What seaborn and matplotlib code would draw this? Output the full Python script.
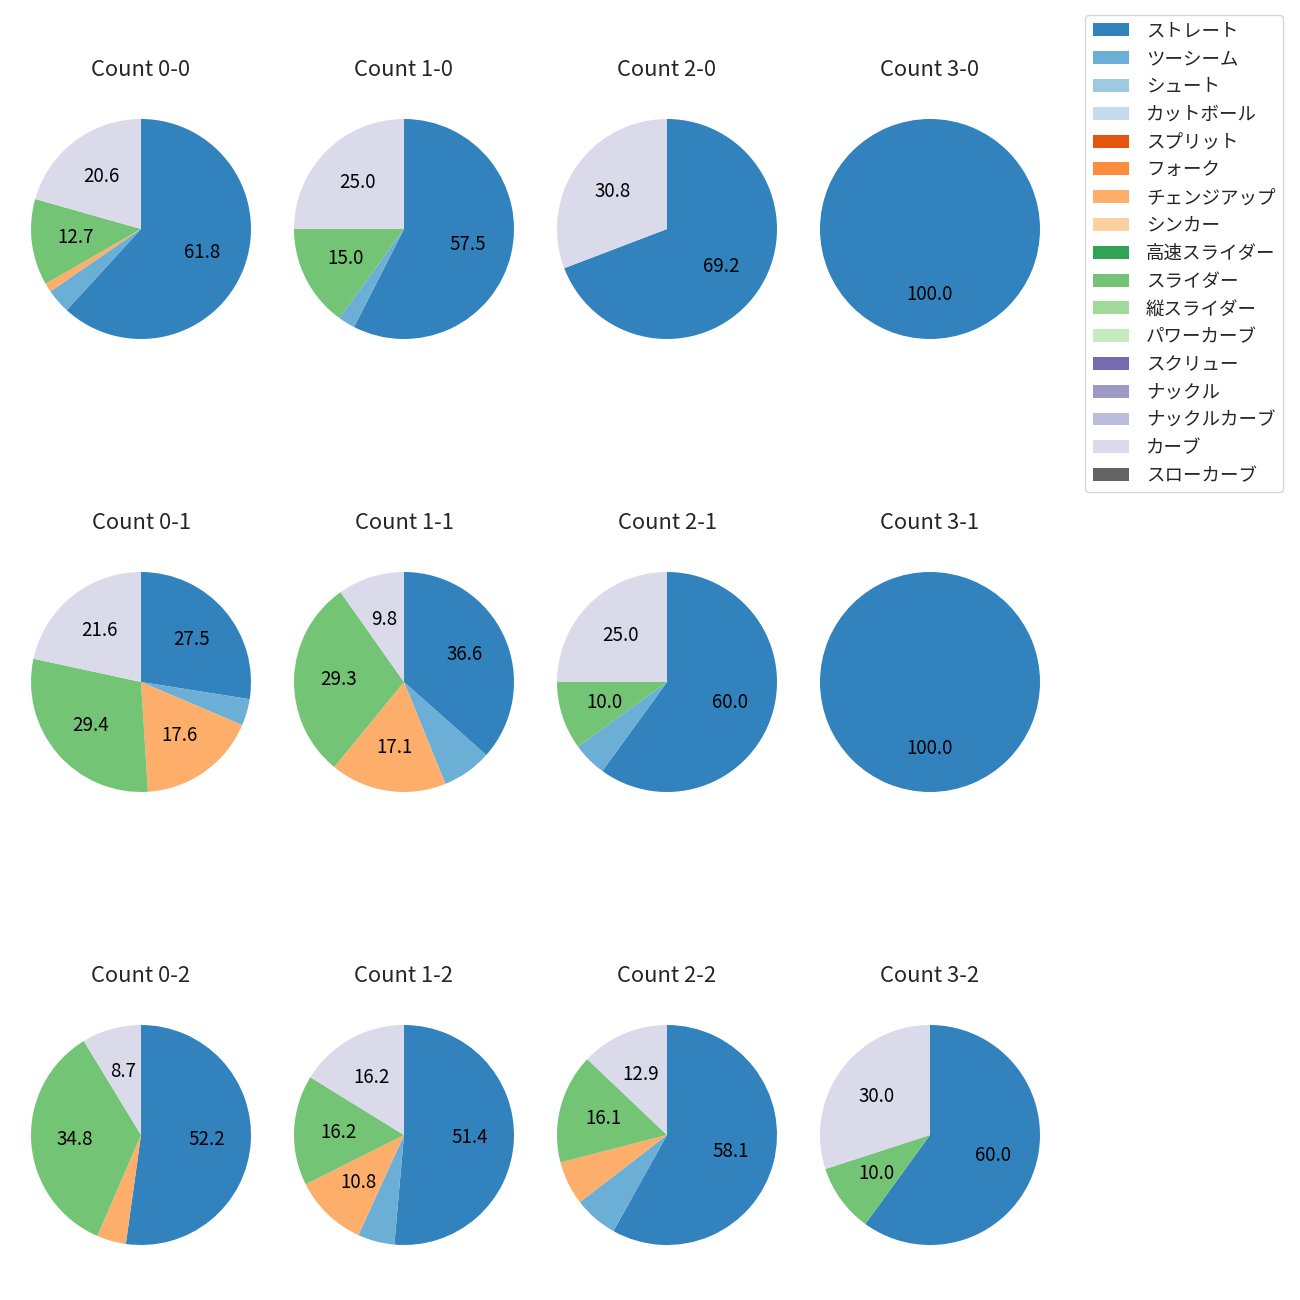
import matplotlib
matplotlib.use("Agg")
import matplotlib.pyplot as plt
import seaborn as sns
from matplotlib.patches import Patch

sns.set_theme(style="white")
plt.rcParams['font.family'] = ['Noto Sans CJK JP', 'DejaVu Sans']
plt.rcParams['patch.force_edgecolor'] = False
plt.rcParams['patch.edgecolor'] = 'none'

pitch_types = ["ストレート", "ツーシーム", "シュート", "カットボール", "スプリット", "フォーク",
               "チェンジアップ", "シンカー", "高速スライダー", "スライダー", "縦スライダー",
               "パワーカーブ", "スクリュー", "ナックル", "ナックルカーブ", "カーブ", "スローカーブ"]

counts = ["0-0", "1-0", "2-0", "3-0",
          "0-1", "1-1", "2-1", "3-1",
          "0-2", "1-2", "2-2", "3-2"]

# percentages per count: (pitch type -> share)
share_0_0 = {"ストレート": 61.8, "ツーシーム": 3.6, "チェンジアップ": 1.3, "スライダー": 12.7, "カーブ": 20.6}
share_1_0 = {"ストレート": 57.5, "ツーシーム": 2.5, "スライダー": 15.0, "カーブ": 25.0}
share_2_0 = {"ストレート": 69.2, "カーブ": 30.8}
share_3_0 = {"ストレート": 100.0}
share_0_1 = {"ストレート": 27.5, "ツーシーム": 3.9, "チェンジアップ": 17.6, "スライダー": 29.4, "カーブ": 21.6}
share_1_1 = {"ストレート": 36.6, "ツーシーム": 7.3, "チェンジアップ": 17.1, "スライダー": 29.3, "カーブ": 9.8}
share_2_1 = {"ストレート": 60.0, "ツーシーム": 5.0, "スライダー": 10.0, "カーブ": 25.0}
share_3_1 = {"ストレート": 100.0}
share_0_2 = {"ストレート": 52.2, "チェンジアップ": 4.3, "スライダー": 34.8, "カーブ": 8.7}
share_1_2 = {"ストレート": 51.4, "ツーシーム": 5.4, "チェンジアップ": 10.8, "スライダー": 16.2, "カーブ": 16.2}
share_2_2 = {"ストレート": 58.1, "ツーシーム": 6.45, "チェンジアップ": 6.45, "スライダー": 16.1, "カーブ": 12.9}
share_3_2 = {"ストレート": 60.0, "スライダー": 10.0, "カーブ": 30.0}

shares = [share_0_0, share_1_0, share_2_0, share_3_0,
          share_0_1, share_1_1, share_2_1, share_3_1,
          share_0_2, share_1_2, share_2_2, share_3_2]

palette = sns.color_palette("tab20c", 20)
colors = {p: palette[i] for i, p in enumerate(pitch_types)}

fig = plt.figure(figsize=(13, 13), dpi=100)
W = H = 1300.0
size = 275.0

for idx, (cnt, sh) in enumerate(zip(counts, shares)):
    r, c = divmod(idx, 4)
    cx = 141 + 263 * c
    cy = 229 + 453 * r
    ax = fig.add_axes([(cx - size / 2) / W, 1 - (cy + size / 2) / H, size / W, size / H])
    labels = [p for p in pitch_types if p in sh]
    vals = [sh[p] for p in labels]
    ax.pie(vals, colors=[colors[p] for p in labels], startangle=90, counterclock=False,
           autopct=lambda v: f"{v:.1f}" if v >= 8 else "", pctdistance=0.6,
           wedgeprops={"linewidth": 0, "edgecolor": "none"},
           textprops={"fontsize": 13.5, "color": "black"})
    ax.set_title(f"Count {cnt}", fontsize=15.8, pad=11)

handles = [Patch(facecolor=colors[p], edgecolor="none", label=p) for p in pitch_types]
fig.legend(handles=handles, loc="upper right", bbox_to_anchor=(1283 / W, 1 - 15 / H),
           borderaxespad=0, fontsize=13.3, labelspacing=0.53, handletextpad=0.9,
           frameon=True, edgecolor="#cccccc")

fig.savefig("out.png", dpi=100)
